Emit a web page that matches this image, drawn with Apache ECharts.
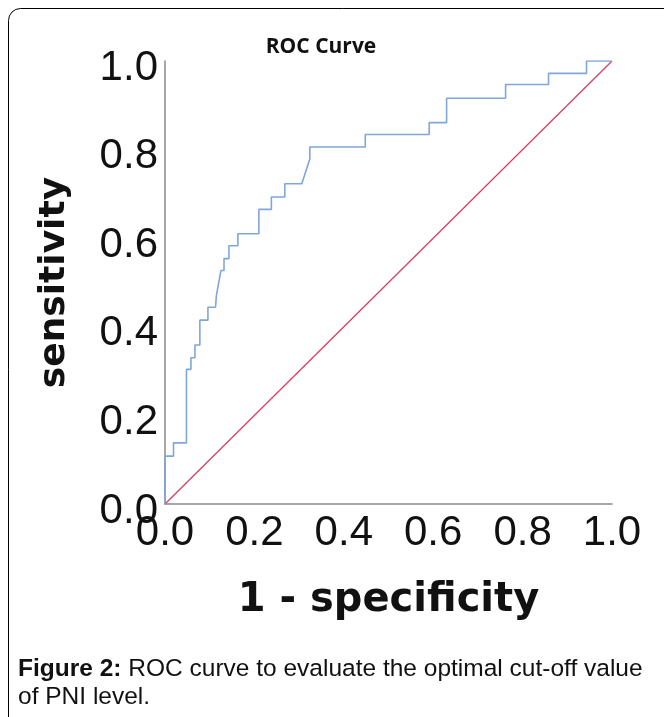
<!DOCTYPE html>
<html>
<head>
<meta charset="utf-8">
<script src="https://cdn.jsdelivr.net/npm/echarts@6/dist/echarts.min.js"></script>
<style>
  html, body { margin: 0; padding: 0; background: #fff; }
  #chart { width: 664px; height: 717px; }
</style>
</head>
<body>
<div id="chart"></div>
<script>
// ROC curve points: 1 - specificity (fpr) and sensitivity (tpr)
var fpr = [0, 0, 0.019, 0.019, 0.048, 0.048, 0.058, 0.058, 0.067, 0.067,
	0.078, 0.078, 0.096, 0.096, 0.113, 0.115, 0.125, 0.132, 0.132, 0.143,
	0.143, 0.163, 0.163, 0.210, 0.210, 0.238, 0.238, 0.268, 0.268, 0.306,
	0.324, 0.324, 0.448, 0.448, 0.591, 0.591, 0.630, 0.630, 0.762, 0.762,
	0.858, 0.858, 0.943, 0.943, 1];
var tpr = [0, 0.108, 0.108, 0.138, 0.138, 0.304, 0.304, 0.330, 0.330, 0.359,
	0.359, 0.415, 0.415, 0.444, 0.444, 0.471, 0.527, 0.527, 0.554, 0.554,
	0.583, 0.583, 0.610, 0.610, 0.665, 0.665, 0.693, 0.693, 0.723, 0.723,
	0.779, 0.806, 0.806, 0.834, 0.834, 0.861, 0.861, 0.916, 0.916, 0.947,
	0.947, 0.972, 0.972, 1, 1];
var refX = [0, 1];
var refY = [0, 1];

var rocData = fpr.map(function(v, i){ return [v, tpr[i]]; });
var refData = refX.map(function(v, i){ return [v, refY[i]]; });

var chart = echarts.init(document.getElementById('chart'));
var option = {
	backgroundColor: '#fff',
	animation: false,
	title: [
		{
			text: 'ROC Curve',
			left: 316,
			top: 32,
			textAlign: 'center',
			textStyle: {
				fontFamily: 'Open Sans',
				fontWeight: 'bold',
				fontSize: 21,
				color: '#111'
			}
		},
		{
			text: '{b|Figure 2:} ROC curve to evaluate the optimal cut-off value\nof PNI level.',
			left: 13,
			top: 650,
			textStyle: {
				fontFamily: 'Liberation Sans',
				fontWeight: 'normal',
				fontSize: 24.5,
				lineHeight: 28,
				color: '#111',
				rich: {
					b: {
						fontFamily: 'Liberation Sans',
						fontWeight: 'bold',
						fontSize: 24.5,
						lineHeight: 28,
						color: '#111'
					}
				}
			}
		}
	],
	graphic: [
		{
			type: 'rect',
			shape: { x: 8.5, y: 8.5, width: 700, height: 760, r: [12, 0, 0, 0] },
			style: { fill: 'none', stroke: '#000', lineWidth: 1 },
			silent: true
		}
	],
	grid: {
		left: 165,
		top: 61,
		width: 447,
		height: 443
	},
	xAxis: {
		type: 'value',
		min: 0,
		max: 1,
		interval: 0.2,
		name: '1 - specificity',
		nameLocation: 'middle',
		nameGap: 77,
		nameTextStyle: {
			fontFamily: 'DejaVu Sans',
			fontWeight: 'bold',
			fontSize: 40,
			color: '#111'
		},
		axisLine: { lineStyle: { color: '#8a8a8a', width: 1.5 } },
		axisTick: { show: false },
		splitLine: { show: false },
		axisLabel: {
			margin: 8,
			fontFamily: 'Liberation Sans',
			fontSize: 42,
			color: '#111',
			formatter: function(v){ return v.toFixed(1); }
		}
	},
	yAxis: {
		type: 'value',
		min: 0,
		max: 1,
		interval: 0.2,
		name: 'sensitivity',
		nameLocation: 'middle',
		nameGap: 92,
		nameTextStyle: {
			fontFamily: 'DejaVu Sans',
			fontWeight: 'bold',
			fontSize: 36,
			color: '#111'
		},
		axisLine: { show: true, lineStyle: { color: '#8a8a8a', width: 1.5 } },
		axisTick: { show: false },
		splitLine: { show: false },
		axisLabel: {
			margin: 7,
			fontFamily: 'Liberation Sans',
			fontSize: 42,
			color: '#111',
			verticalAlign: 'top',
			lineHeight: 14,
			formatter: function(v){ return v.toFixed(1); }
		}
	},
	series: [
		{
			name: 'ROC',
			type: 'line',
			data: rocData,
			symbol: 'none',
			lineStyle: { color: '#7fa7d9', width: 1.6 },
			z: 3
		},
		{
			name: 'reference',
			type: 'line',
			data: refData,
			symbol: 'none',
			lineStyle: { color: '#d93a5c', width: 1.2 },
			z: 2
		}
	]
};
chart.setOption(option);
window.addEventListener('resize', function(){
	chart.resize();
});
</script>
</body>
</html>
